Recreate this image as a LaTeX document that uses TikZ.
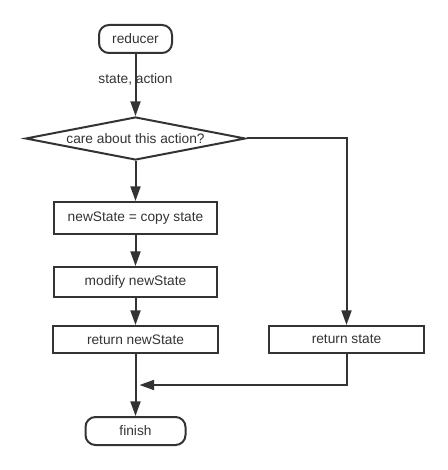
\documentclass[tikz,border=0pt]{standalone}
\usepackage{fontspec}
\setmainfont{Liberation Sans}
\usetikzlibrary{shapes.geometric,arrows.meta}
\definecolor{ink}{HTML}{333333}
\begin{document}
\begin{tikzpicture}[x=0.75pt,y=-0.75pt,
  every node/.style={font=\fontsize{10.3}{12}\selectfont,text=ink},
  term/.style={draw=ink,line width=1.5pt,rounded corners=7.5pt,inner sep=0pt},
  proc/.style={draw=ink,line width=1.5pt,inner sep=0pt},
  dec/.style={draw=ink,line width=1.5pt,diamond,aspect=5.1,inner sep=0pt},
  conn/.style={draw=ink,line width=1.5pt,-{Triangle[length=11pt,width=7.5pt]}}]
\useasboundingbox (0,0) rectangle (448,470);
\node[term,minimum width=54.75pt,minimum height=21pt] (reducer) at (135.5,39) {reducer};
\node[dec,minimum width=165pt,minimum height=32.25pt] (care) at (135.5,138.5) {care about this action?};
\node[proc,minimum width=122.25pt,minimum height=24pt] (copy) at (135.5,218) {newState = copy state};
\node[proc,minimum width=122.25pt,minimum height=22.5pt] (modify) at (135.5,282) {modify newState};
\node[proc,minimum width=123.75pt,minimum height=20.25pt] (retnew) at (135.5,339.5) {return newState};
\node[proc,minimum width=116.25pt,minimum height=20.25pt] (retstate) at (346.5,339.5) {return state};
\node[term,minimum width=75pt,minimum height=21pt] (finish) at (135.5,431) {finish};
\coordinate (merge) at (135.5,385);
\node (lbl) at (135.5,79) {state, action};
\draw[conn] (reducer) -- (care);
\draw[conn] (care) -- (copy);
\draw[conn] (copy) -- (modify);
\draw[conn] (modify) -- (retnew);
\draw[conn] (care.east) -| (retstate.north);
\draw[conn] (retnew) -- (finish);
\draw[conn] (retstate.south) |- ([xshift=3pt]merge);
\end{tikzpicture}
\end{document}
